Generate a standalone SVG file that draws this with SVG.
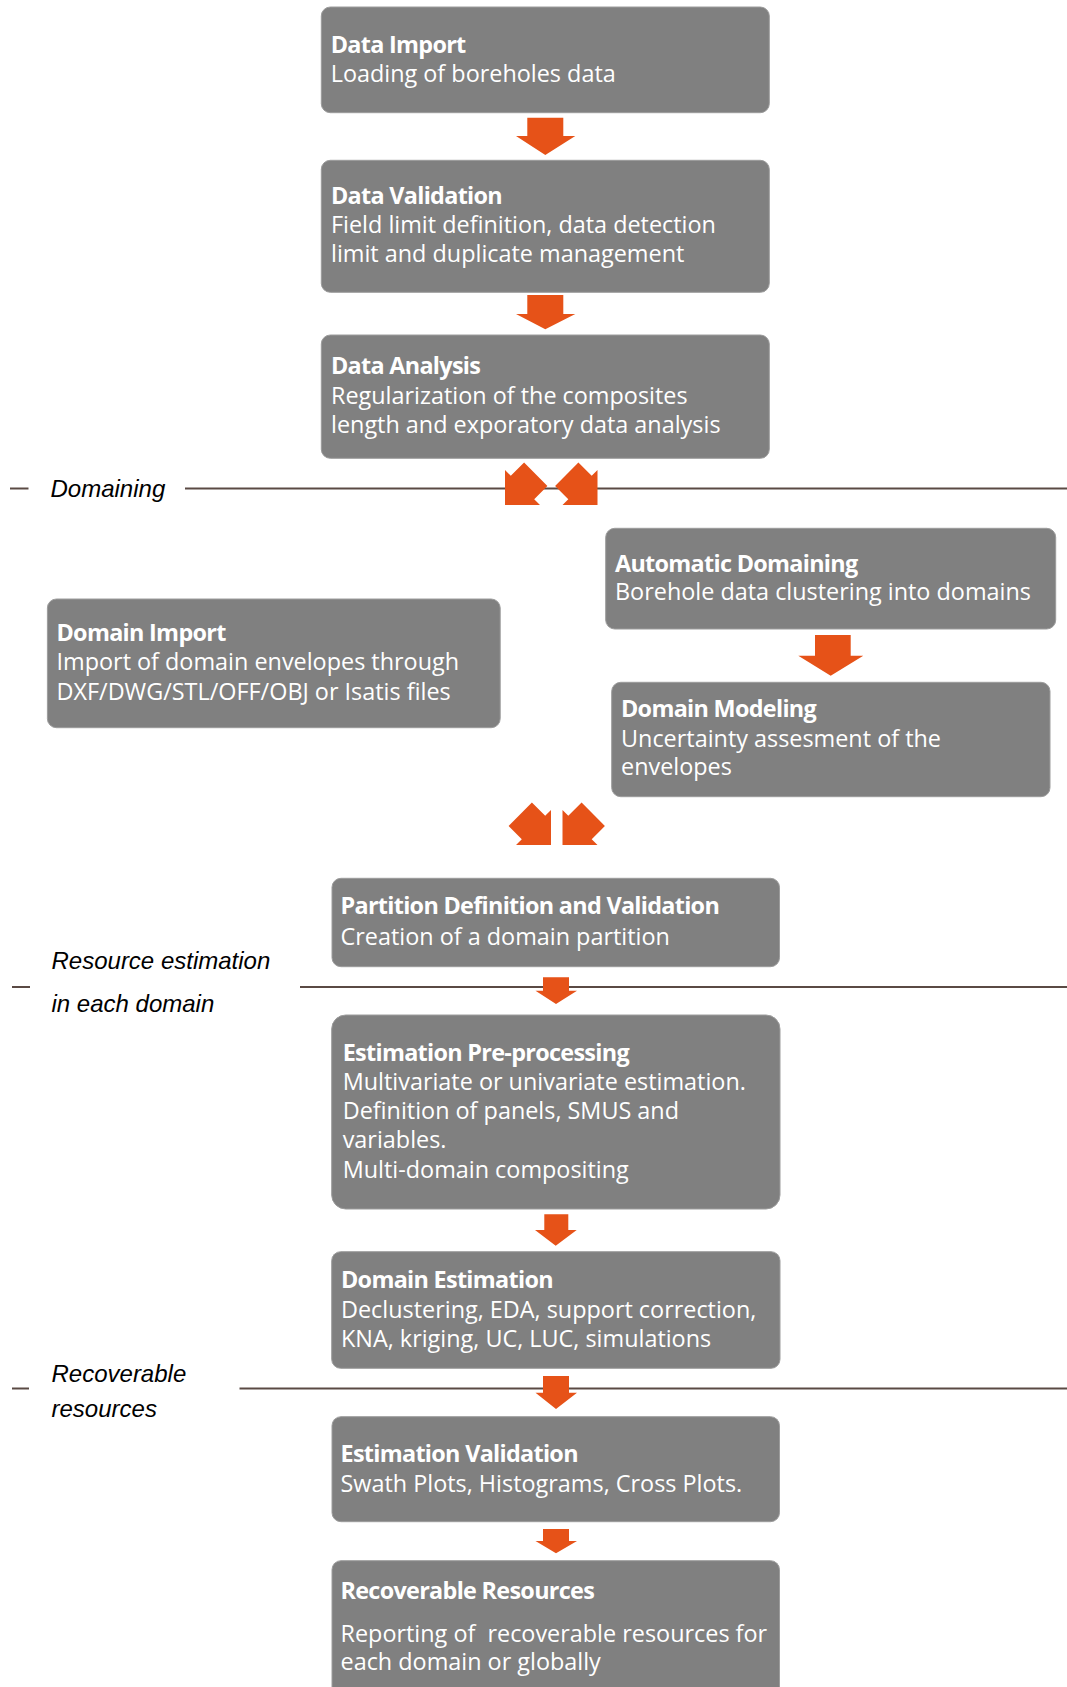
<svg xmlns="http://www.w3.org/2000/svg" xmlns:xlink="http://www.w3.org/1999/xlink" width="1067" height="1687" viewBox="0 0 1067 1687">
<style>
.box{fill:#808080;stroke:#9c9c9c;stroke-width:1}
.t{font-family:"Open Sans","DejaVu Sans",sans-serif;font-size:23.4px;fill:#ffffff;white-space:pre}
.b{font-weight:bold;letter-spacing:-0.7px}
.lab{font-family:"Liberation Sans",Arial,sans-serif;font-style:italic;font-size:24px;fill:#000000}
.sep{stroke:#5a4a44;stroke-width:2;fill:none}
.arr{fill:#e65218}
</style>
<defs>
<path id="se" d="M0,0 L0,-35 L-5.8,-29.2 L-19.1,-42.4 L-42.4,-19.1 L-29.2,-5.8 L-35,0 Z"/>
<path id="sw" d="M0,0 L0,-35 L5.8,-29.2 L19.1,-42.4 L42.4,-19.1 L29.2,-5.8 L35,0 Z"/>
</defs>
<rect width="1067" height="1687" fill="#ffffff"/>

<g id="separators">
<line class="sep" x1="10" y1="488.5" x2="28.5" y2="488.5"/>
<line class="sep" x1="185" y1="488.5" x2="1067" y2="488.5"/>
<text class="lab" x="50.5" y="497.3">Domaining</text>
<line class="sep" x1="12" y1="987" x2="30" y2="987"/>
<line class="sep" x1="300" y1="987" x2="1067" y2="987"/>
<text class="lab" x="51.5" y="969.3">Resource estimation</text>
<text class="lab" x="51.5" y="1011.7">in each domain</text>
<line class="sep" x1="12" y1="1388.5" x2="29" y2="1388.5"/>
<line class="sep" x1="239.5" y1="1388.5" x2="1067" y2="1388.5"/>
<text class="lab" x="51.5" y="1381.7">Recoverable</text>
<text class="lab" x="51.5" y="1416.7">resources</text>
</g>

<g id="data-import">
<rect class="box" x="321.3" y="7" width="448" height="105.7" rx="9"/>
<text class="t b" x="330.7" y="52.7">Data Import</text>
<text class="t" x="330.7" y="81.7">Loading of boreholes data</text>
</g>

<g id="data-validation">
<rect class="box" x="321.3" y="160.3" width="448" height="132" rx="9"/>
<text class="t b" x="331" y="204">Data Validation</text>
<text class="t" x="331" y="233.3">Field limit definition, data detection</text>
<text class="t" x="331" y="262">limit and duplicate management</text>
</g>

<g id="data-analysis">
<rect class="box" x="321.3" y="335" width="448" height="123.3" rx="9"/>
<text class="t b" x="331" y="374">Data Analysis</text>
<text class="t" x="331" y="404">Regularization of the composites</text>
<text class="t" x="331" y="433">length and exporatory data analysis</text>
</g>

<g id="domain-import">
<rect class="box" x="47.4" y="599" width="452.8" height="128.7" rx="9"/>
<text class="t b" x="56.5" y="641">Domain Import</text>
<text class="t" x="56.5" y="670">Import of domain envelopes through</text>
<text class="t" x="56.5" y="700">DXF/DWG/STL/OFF/OBJ or Isatis files</text>
</g>

<g id="automatic-domaining">
<rect class="box" x="605.7" y="528.3" width="450" height="100.7" rx="9"/>
<text class="t b" x="615" y="571.7">Automatic Domaining</text>
<text class="t" x="615" y="600">Borehole data clustering into domains</text>
</g>

<g id="domain-modeling">
<rect class="box" x="611.7" y="682.3" width="438.3" height="114.4" rx="9"/>
<text class="t b" x="621" y="717.3">Domain Modeling</text>
<text class="t" x="621" y="746.7">Uncertainty assesment of the</text>
<text class="t" x="621" y="775">envelopes</text>
</g>

<g id="partition">
<rect class="box" x="332" y="878.3" width="447.5" height="88.4" rx="9"/>
<text class="t b" x="340.5" y="914">Partition Definition and Validation</text>
<text class="t" x="340.5" y="945">Creation of a domain partition</text>
</g>

<g id="estimation-preprocessing">
<rect class="box" x="331.7" y="1015" width="448.3" height="194" rx="14"/>
<text class="t b" x="342.7" y="1061">Estimation Pre-processing</text>
<text class="t" x="342.7" y="1090">Multivariate or univariate estimation.</text>
<text class="t" x="342.7" y="1119">Definition of panels, SMUS and</text>
<text class="t" x="342.7" y="1148.3">variables.</text>
<text class="t" x="342.7" y="1177.7">Multi-domain compositing</text>
</g>

<g id="domain-estimation">
<rect class="box" x="331.7" y="1251.7" width="448.3" height="116.6" rx="9"/>
<text class="t b" x="341" y="1288.3">Domain Estimation</text>
<text class="t" x="341" y="1318.3">Declustering, EDA, support correction,</text>
<text class="t" x="341" y="1346.7">KNA, kriging, UC, LUC, simulations</text>
</g>

<g id="estimation-validation">
<rect class="box" x="332" y="1416.7" width="447.5" height="105" rx="9"/>
<text class="t b" x="340.5" y="1461.7">Estimation Validation</text>
<text class="t" x="340.5" y="1491.7">Swath Plots, Histograms, Cross Plots.</text>
</g>

<g id="recoverable-resources">
<rect class="box" x="332" y="1560.7" width="447.5" height="140" rx="9"/>
<text class="t b" x="340.5" y="1599.3">Recoverable Resources</text>
<text class="t" x="340.5" y="1641.7" xml:space="preserve">Reporting of  recoverable resources for</text>
<text class="t" x="340.5" y="1670">each domain or globally</text>
</g>

<g id="connectors">
<path class="arr" d="M527.3,117.7 H563.3 V136 H575.3 L545.3,155 L516,136 H527.3 Z"/>
<path class="arr" d="M527.3,295 H563.3 V314 H575.3 L545.3,329.3 L516,314 H527.3 Z"/>
<use class="arr" xlink:href="#sw" href="#sw" transform="translate(505,505)"/>
<use class="arr" xlink:href="#se" href="#se" transform="translate(597.5,505)"/>
<path class="arr" d="M815,635 H850.7 V655.7 H863.3 L830.7,675.7 L798.3,655.7 H815 Z"/>
<use class="arr" xlink:href="#se" href="#se" transform="translate(551,845)"/>
<use class="arr" xlink:href="#sw" href="#sw" transform="translate(562.5,845)"/>
<path class="arr" d="M543,977.3 H569 V990.7 H577 L556,1004 L535.5,990.7 H543 Z"/>
<path class="arr" d="M544.3,1214.3 H568.3 V1230 H576.7 L555.7,1245.7 L535,1230 H544.3 Z"/>
<path class="arr" d="M543,1376 H569 V1392.7 H577 L556,1409 L535.5,1392.7 H543 Z"/>
<path class="arr" d="M543,1529 H569 V1541 H577 L556,1553.3 L535.5,1541 H543 Z"/>
</g>
</svg>
